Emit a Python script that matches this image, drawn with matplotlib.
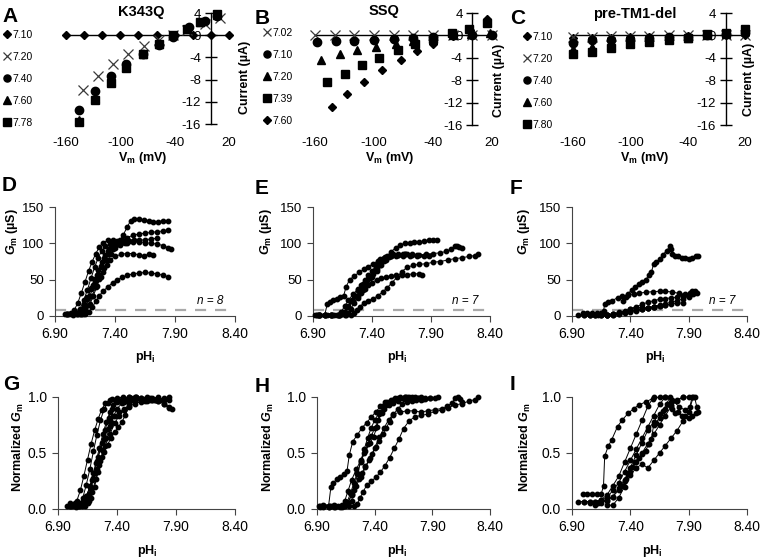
"""Recreate the nine-panel pH gating figure (I-V curves, Gm and normalized Gm vs pHi)"""

import matplotlib
matplotlib.use('Agg')
import matplotlib.pyplot as plt
from matplotlib.ticker import FormatStrFormatter

plt.rcParams['font.family'] = ['Liberation Sans', 'DejaVu Sans']
plt.rcParams['axes.unicode_minus'] = False
plt.rcParams['mathtext.fontset'] = 'custom'
plt.rcParams['mathtext.rm'] = 'Liberation Sans:bold'
plt.rcParams['mathtext.it'] = 'Liberation Sans:italic:bold'
plt.rcParams['mathtext.bf'] = 'Liberation Sans:bold'

W, H = 761, 560

# ---- panels A-C: current (uA) vs Vm (mV), one list per pHi ----
A_LABELS = ['7.10', '7.20', '7.40', '7.60', '7.78']
A_VM = [
    [-160, -140, -120, -100, -80, -60, -40, -20, 0, 20],
    [-141, -125, -108, -92, -74, -57, -42, -26, -6, 10],
    [-146, -128, -110, -94, -75, -57, -42, -24, -6, 7],
    [-146, -128, -110, -94, -75, -57, -42, -26, -12, 7],
    [-146, -128, -110, -94, -75, -57, -42, -26, -12, 7],
]
A_CUR = [
    [0, 0, 0, 0, 0, 0, 0, 0, 0, 0],
    [-9.9, -7.4, -5.2, -3.4, -2.0, -0.9, 0.0, 0.9, 2.0, 3.1],
    [-13.5, -10.1, -7.4, -5.2, -3.4, -1.7, -0.3, 1.4, 2.5, 3.5],
    [-15.3, -11.3, -8.3, -5.7, -3.3, -1.6, 0.0, 1.1, 2.3, 3.7],
    [-15.7, -11.7, -8.6, -5.9, -3.4, -1.6, 0.0, 1.1, 2.3, 3.8],
]

B_LABELS = ['7.02', '7.10', '7.20', '7.39', '7.60']
B_VM = [
    [-160, -140, -120, -100, -80, -60, -40, -20, 0, 20],
    [-158, -139, -120, -100, -80, -60, -40, -20, 0, 20],
    [-154, -135, -117, -98, -78, -60, -40, -20, -1, 18],
    [-148, -130, -112, -95, -76, -58, -40, -21, -3, 15],
    [-143, -127, -110, -92, -73, -56, -40, -20, -2, 15],
]
B_CUR = [
    [0, 0, 0, 0, 0, 0, 0, 0, 0, 0],
    [-1.1, -1.0, -1.0, -0.9, -0.6, -0.5, -0.2, 0.0, 0.0, 0.1],
    [-4.4, -3.3, -2.6, -2.1, -1.6, -1.0, -0.5, 0.0, 0.3, 0.5],
    [-8.4, -6.9, -5.3, -4.0, -2.6, -1.6, -0.7, 0.35, 1.2, 2.3],
    [-12.7, -10.4, -8.3, -6.2, -4.4, -2.8, -1.6, -0.1, 0.9, 3.0],
]

C_LABELS = ['7.10', '7.20', '7.40', '7.60', '7.80']
C_VM = [
    [-160, -140, -120, -100, -80, -60, -40, -20, 0, 20],
    [-160, -140, -120, -100, -80, -60, -40, -20, 0, 20],
    [-160, -140, -120, -100, -80, -60, -40, -20, 0, 20],
    [-160, -140, -120, -100, -80, -60, -40, -20, 0, 20],
    [-160, -140, -120, -100, -80, -60, -40, -20, 0, 20],
]
C_CUR = [
    [-0.5, -0.4, -0.4, -0.3, -0.3, -0.2, -0.1, 0.0, 0.0, 0.0],
    [-0.2, -0.2, -0.1, -0.1, -0.1, 0.0, 0.0, 0.0, 0.0, 0.1],
    [-1.4, -0.9, -0.8, -0.6, -0.4, -0.3, -0.2, 0.0, 0.2, 0.5],
    [-2.4, -2.0, -1.7, -1.3, -1.0, -0.7, -0.4, 0.0, 0.3, 0.8],
    [-3.4, -2.9, -2.3, -1.6, -1.2, -0.9, -0.5, 0.2, 0.4, 1.1],
]

# ---- panels D-F: Gm (uS) vs pHi, one list per oocyte ----
D_PH = [
    [7.00, 7.02, 7.05, 7.08, 7.11, 7.14, 7.17, 7.20, 7.23, 7.26, 7.29, 7.32, 7.35, 7.38, 7.41, 7.44, 7.47, 7.50, 7.53, 7.56, 7.60, 7.64, 7.68, 7.72, 7.76, 7.80, 7.84],
    [7.08, 7.11, 7.14, 7.17, 7.20, 7.23, 7.26, 7.29, 7.32, 7.35, 7.38, 7.42, 7.46, 7.50, 7.55, 7.60, 7.65, 7.70, 7.75, 7.80, 7.84],
    [6.98, 7.00, 7.03, 7.06, 7.09, 7.12, 7.15, 7.18, 7.21, 7.24, 7.27, 7.30, 7.34, 7.38, 7.42, 7.46, 7.50, 7.55, 7.60, 7.65, 7.70, 7.75],
    [7.10, 7.13, 7.16, 7.19, 7.22, 7.25, 7.28, 7.31, 7.34, 7.37, 7.40, 7.45, 7.50, 7.55, 7.60, 7.65, 7.70, 7.75, 7.80, 7.84, 7.87],
    [7.12, 7.15, 7.18, 7.21, 7.24, 7.27, 7.30, 7.33, 7.36, 7.40, 7.45, 7.50, 7.55, 7.60, 7.64, 7.68, 7.72],
    [7.00, 7.04, 7.08, 7.12, 7.15, 7.18, 7.21, 7.24, 7.27, 7.30, 7.34, 7.38, 7.42, 7.46, 7.50, 7.55, 7.60, 7.65, 7.70, 7.75, 7.80, 7.84],
    [7.05, 7.08, 7.11, 7.14, 7.17, 7.20, 7.23, 7.26, 7.29, 7.32, 7.36, 7.40, 7.45, 7.50],
    [7.13, 7.16, 7.19, 7.22, 7.25, 7.28, 7.31, 7.34, 7.37, 7.40, 7.44, 7.48, 7.52, 7.56],
]
D_GM = [
    [3, 3, 3, 4, 8, 16, 26, 37, 48, 58, 68, 77, 85, 92, 98, 104, 112, 122, 131, 134, 133, 132, 131, 130, 130, 131, 131],
    [3, 5, 12, 24, 38, 51, 63, 74, 84, 92, 98, 102, 105, 108, 111, 113, 114, 115, 116, 117, 118],
    [3, 3, 4, 8, 18, 32, 47, 62, 75, 86, 95, 101, 104, 104, 103, 102, 102, 103, 104, 105, 106, 107],
    [3, 6, 14, 27, 42, 56, 69, 80, 89, 96, 100, 102, 103, 102, 102, 101, 100, 99, 97, 94, 92],
    [3, 6, 15, 28, 40, 51, 61, 70, 77, 82, 85, 86, 86, 84, 83, 85, 84],
    [3, 3, 3, 3, 3, 6, 12, 20, 28, 34, 40, 46, 50, 53, 56, 58, 59, 60, 59, 58, 56, 54],
    [2, 4, 10, 22, 36, 52, 67, 80, 90, 96, 99, 100, 101, 100],
    [3, 7, 16, 28, 41, 54, 66, 77, 86, 93, 98, 101, 103, 104],
]

E_PH = [
    [6.95, 7.00, 7.05, 7.10, 7.14, 7.17, 7.20, 7.23, 7.26, 7.29, 7.32, 7.35, 7.38, 7.41, 7.44, 7.47, 7.50, 7.53, 7.56, 7.60, 7.64, 7.68, 7.72, 7.76, 7.80, 7.84, 7.88, 7.92, 7.95],
    [6.93, 7.00, 7.06, 7.12, 7.16, 7.20, 7.24, 7.28, 7.32, 7.36, 7.40, 7.44, 7.48, 7.52, 7.56, 7.62, 7.68, 7.74, 7.80, 7.86, 7.92, 7.98, 8.03, 8.07, 8.10, 8.12, 8.14, 8.16],
    [6.95, 7.05, 7.12, 7.18, 7.22, 7.25, 7.27, 7.30, 7.33, 7.37, 7.41, 7.45, 7.49, 7.53, 7.57, 7.61, 7.65, 7.70, 7.75, 7.80, 7.86, 7.92, 7.98, 8.04, 8.10, 8.16, 8.22, 8.27, 8.30],
    [6.95, 7.05, 7.12, 7.17, 7.20, 7.22, 7.25, 7.28, 7.31, 7.34, 7.37, 7.40, 7.44, 7.48, 7.52, 7.56, 7.60, 7.65, 7.70, 7.75, 7.80, 7.82],
    [6.92, 6.96, 7.00, 7.02, 7.04, 7.07, 7.10, 7.13, 7.16, 7.18, 7.21, 7.25, 7.29, 7.33, 7.37, 7.41, 7.45, 7.49, 7.54, 7.60, 7.66, 7.72, 7.78, 7.84, 7.88],
    [6.93, 7.00, 7.06, 7.11, 7.14, 7.17, 7.20, 7.24, 7.28, 7.32, 7.36, 7.39, 7.42, 7.44, 7.47, 7.51, 7.56, 7.62, 7.68, 7.74, 7.78],
    [6.95, 7.02, 7.08, 7.13, 7.16, 7.19, 7.22, 7.25, 7.28, 7.31, 7.34, 7.37, 7.40, 7.43, 7.46, 7.50, 7.54, 7.58, 7.62, 7.66, 7.70],
]
E_GM = [
    [2, 2, 2, 2, 3, 6, 14, 22, 28, 34, 40, 46, 52, 58, 64, 70, 76, 82, 88, 94, 98, 100, 101, 102, 102, 103, 104, 104, 105],
    [2, 2, 2, 2, 4, 12, 20, 28, 36, 44, 53, 62, 70, 77, 82, 84, 85, 85, 84, 85, 86, 87, 89, 92, 96, 97, 95, 93],
    [2, 2, 2, 2, 2, 4, 8, 13, 18, 21, 24, 28, 33, 39, 46, 53, 61, 67, 70, 71, 72, 74, 75, 77, 79, 80, 82, 83, 85],
    [2, 2, 2, 2, 4, 10, 18, 25, 31, 37, 42, 46, 50, 52, 54, 55, 56, 57, 57, 58, 58, 57],
    [2, 2, 2, 16, 19, 22, 24, 26, 28, 40, 50, 55, 60, 64, 68, 72, 76, 79, 81, 82, 83, 83, 82, 82, 82],
    [2, 2, 2, 2, 6, 14, 22, 30, 37, 44, 50, 55, 62, 72, 78, 81, 83, 84, 85, 84, 84],
    [2, 2, 2, 2, 5, 12, 20, 28, 36, 43, 50, 56, 62, 68, 74, 80, 83, 85, 86, 86, 86],
]

F_PH = [
    [7.34, 7.36, 7.38, 7.41, 7.44, 7.47, 7.50, 7.53, 7.56, 7.58, 7.60, 7.62, 7.65, 7.68, 7.71, 7.74, 7.75, 7.76, 7.78, 7.81, 7.84, 7.87, 7.90, 7.93, 7.96, 7.98],
    [6.99, 7.03, 7.07, 7.11, 7.15, 7.17, 7.18, 7.21, 7.24, 7.29, 7.33, 7.38, 7.43, 7.47, 7.53, 7.59, 7.65, 7.70, 7.76, 7.82, 7.87, 7.91, 7.93, 7.95, 7.97],
    [7.20, 7.25, 7.30, 7.35, 7.40, 7.45, 7.50, 7.55, 7.60, 7.65, 7.70, 7.75, 7.80, 7.85, 7.90, 7.94],
    [7.05, 7.12, 7.20, 7.25, 7.30, 7.35, 7.40, 7.45, 7.50, 7.55, 7.60, 7.65, 7.70, 7.75, 7.80, 7.85],
    [7.10, 7.15, 7.20, 7.25, 7.30, 7.35, 7.40, 7.45, 7.50, 7.55, 7.60, 7.65, 7.70, 7.75, 7.80, 7.85, 7.90],
    [7.00, 7.05, 7.10, 7.15, 7.20, 7.25, 7.30, 7.35, 7.40, 7.45, 7.50, 7.55, 7.60, 7.65, 7.70],
    [6.95, 7.00, 7.05, 7.10, 7.15, 7.20, 7.25, 7.30, 7.35, 7.40, 7.45, 7.50, 7.55, 7.60],
]
F_GM = [
    [20, 26, 30, 36, 40, 44, 47, 50, 56, 60, 72, 74, 78, 84, 90, 96, 92, 86, 82, 83, 80, 80, 78, 80, 82, 83],
    [4.5, 4.5, 4.5, 4.5, 4.5, 7, 16, 19, 21, 25, 27, 29, 30.5, 31.5, 32.5, 33.5, 34, 34, 33, 31, 30, 31, 34, 34, 31],
    [1, 1, 3, 6, 9, 11, 12, 11, 13, 15, 17, 19, 21, 23.5, 26, 30],
    [1, 1, 1.5, 2, 3, 4.5, 6, 7.5, 9, 10.5, 12, 13.5, 15, 16.5, 17.5, 18],
    [1, 1.5, 2, 3, 5, 7, 10, 13, 16, 19, 21, 23, 24, 25, 26, 27, 27],
    [1, 1, 1, 1.2, 1.5, 2.5, 3.5, 5, 6.5, 8, 9.5, 11, 12.5, 14, 15],
    [0.8, 0.8, 0.8, 0.8, 1, 1.5, 2.5, 3.5, 5, 6.5, 8, 9.5, 11, 12],
]
N_CELLS = ['n = 8', 'n = 7', 'n = 7']
GM_THRESHOLD = 8

PH_TICKS = [6.90, 7.40, 7.90, 8.40]
GM_TICKS = [0, 50, 100, 150]
NORM_TICKS = [0.0, 0.5, 1.0]
VM_TICKS = [-160, -100, -40, 20]
CUR_TICKS = [4, 0, -4, -8, -12, -16]

IV_MARKERS_A = ['D', 'x', 'o', '^', 's']
IV_MARKERS_B = ['x', 'o', '^', 's', 'D']
IV_MARKERS_C = ['D', 'x', 'o', '^', 's']


def px_rect(x0, x1, ytop, ybot):
    """Axes rectangle from pixel edges."""
    return [x0 / W, 1 - ybot / H, (x1 - x0) / W, (ybot - ytop) / H]


def ftext(fig, x, y, s, **kw):
    """Text placed in figure pixel coordinates (y from top)."""
    fig.text(x / W, 1 - y / H, s, **kw)


def marker_style(m):
    if m == 'x':
        return dict(marker='x', ms=7, mew=0.9, color='#3a3a3a')
    if m == 'D':
        return dict(marker='D', ms=4.5, color='black')
    return dict(marker=m, ms=6, color='black')


def iv_panel(fig, rect, vms, curs, labels, markers, leg_xy):
    ax = fig.add_axes(rect)
    ax.set_xlim(-160, 20)
    ax.set_ylim(-16, 4)
    ax.axhline(0, color='black', lw=1.0, zorder=1)
    handles = []
    for v, c, lab, m in zip(vms, curs, labels, markers):
        h, = ax.plot(v, c, ls='none', label=lab, clip_on=False, zorder=3, **marker_style(m))
        handles.append(h)

    for side in ['top', 'right', 'bottom']:
        ax.spines[side].set_visible(False)
    ax.spines['left'].set_position(('data', 0))
    ax.spines['left'].set_linewidth(1.0)
    ax.set_yticks(CUR_TICKS)
    ax.set_xticks(VM_TICKS)
    ax.tick_params(axis='y', direction='inout', length=8, width=1.0, labelsize=9.5, pad=3)
    ax.tick_params(axis='x', length=0, labelsize=9.5, pad=9)

    fig.legend(handles=handles, loc='upper left',
               bbox_to_anchor=(leg_xy[0] / W, 1 - leg_xy[1] / H),
               frameon=False, fontsize=7.5, handlelength=0.7, handletextpad=0.2,
               labelspacing=1.15, borderpad=0, borderaxespad=0, markerscale=0.85)
    return ax


def trace_panel(fig, rect, phs, vals, ylim, yticks, yfmt):
    ax = fig.add_axes(rect)
    for ph, val in zip(phs, vals):
        ax.plot(ph, val, color='black', lw=0.7, marker='o', ms=3.2,
                clip_on=False, zorder=3)
    ax.set_xlim(6.9, 8.4)
    ax.set_ylim(*ylim)
    ax.set_xticks(PH_TICKS)
    ax.set_yticks(yticks)
    ax.xaxis.set_major_formatter(FormatStrFormatter('%.2f'))
    ax.yaxis.set_major_formatter(FormatStrFormatter(yfmt))
    for side in ['top', 'right']:
        ax.spines[side].set_visible(False)
    for side in ['left', 'bottom']:
        ax.spines[side].set_color('#444444')
        ax.spines[side].set_linewidth(0.8)
    ax.tick_params(length=4, width=0.8, color='#444444', labelsize=10, pad=4)
    return ax


def normalize(vals):
    return [[g / max(v) for g in v] for v in vals]


def main():
    fig = plt.figure(figsize=(W / 100, H / 100), dpi=100)

    # top row: I-V relations
    iv_panel(fig, px_rect(66, 229, 13, 124), A_VM, A_CUR, A_LABELS, IV_MARKERS_A, (3, 30))
    iv_panel(fig, px_rect(315, 492, 13, 125), B_VM, B_CUR, B_LABELS, IV_MARKERS_B, (263, 28))
    iv_panel(fig, px_rect(573, 745, 13, 125), C_VM, C_CUR, C_LABELS, IV_MARKERS_C, (523, 32))

    title_kw = dict(fontsize=10.5, fontweight='bold', ha='center', va='center')
    ftext(fig, 141, 12, 'K343Q', **title_kw)
    ftext(fig, 384, 11, 'SSQ', **title_kw)
    ftext(fig, 635, 14, 'pre-TM1-del', **title_kw)

    lab_kw = dict(fontsize=9, fontweight='bold', ha='center', va='center')
    for x in [143, 390, 645]:
        ftext(fig, x, 158, r'V$_\mathrm{m}$ (mV)', **lab_kw)
    for x, y in [(245, 77), (499, 80), (749, 79)]:
        ftext(fig, x, y, 'Current (µA)', rotation=90, **lab_kw)

    # middle row: Gm vs pHi
    mid = [(55, 235, D_PH, D_GM), (313, 490, E_PH, E_GM), (572, 747, F_PH, F_GM)]
    for (x0, x1, phs, gms), ntxt in zip(mid, N_CELLS):
        ax = trace_panel(fig, px_rect(x0, x1, 207, 316), phs, gms, (0, 150), GM_TICKS, '%d')
        ax.tick_params(axis='y', labelsize=9.5)
        ax.axhline(GM_THRESHOLD, color='#aaaaaa', lw=1.6, ls=(0, (5, 4)), zorder=1)
        ax.text(8.30, 21, ntxt, ha='right', va='center', fontsize=8.5, style='italic')

    # bottom row: normalized Gm vs pHi
    bot = [(58, 235, D_PH, D_GM), (317, 490, E_PH, E_GM), (572, 747, F_PH, F_GM)]
    for x0, x1, phs, gms in bot:
        trace_panel(fig, px_rect(x0, x1, 397, 509), phs, normalize(gms), (0, 1), NORM_TICKS, '%.1f')

    for x in [145, 397, 655]:
        ftext(fig, x, 357, r'pH$_\mathrm{i}$', **lab_kw)
    for x in [147, 397, 652]:
        ftext(fig, x, 551, r'pH$_\mathrm{i}$', **lab_kw)
    for x in [12, 266, 524]:
        ftext(fig, x, 232, r'$G_\mathrm{m}$ (µS)', rotation=90, **lab_kw)
    for x in [18, 268, 525]:
        ftext(fig, x, 447, r'Normalized $G_\mathrm{m}$', rotation=90, **lab_kw)

    letter_kw = dict(fontsize=15, fontweight='bold', ha='left', va='center')
    for s, x, y in [('A', 2, 17), ('B', 255, 18), ('C', 510, 18),
                    ('D', 2, 186), ('E', 255, 189), ('F', 510, 189),
                    ('G', 3, 385), ('H', 255, 387), ('I', 510, 385)]:
        ftext(fig, x, y, s, **letter_kw)

    fig.savefig('out.png', dpi=100)


if __name__ == '__main__':
    main()
